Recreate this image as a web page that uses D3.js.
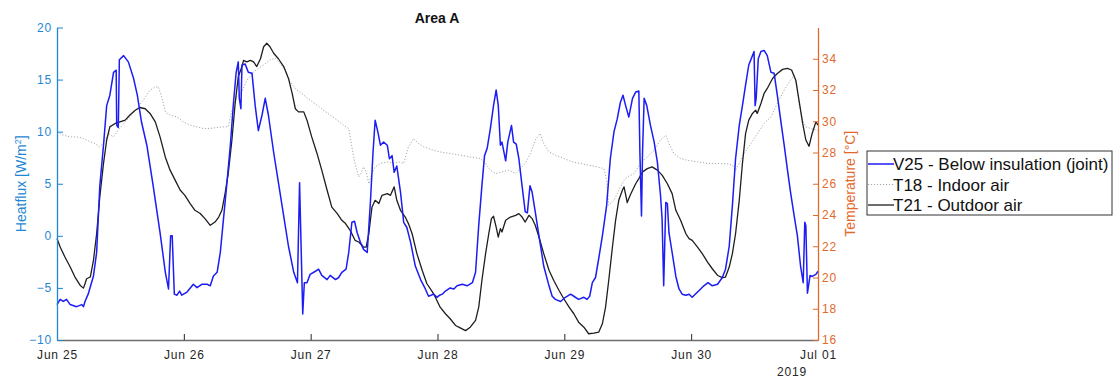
<!DOCTYPE html>
<html>
<head>
<meta charset="utf-8">
<script src="https://cdn.jsdelivr.net/npm/d3@7"></script>
<style>
  html, body { margin: 0; padding: 0; background: #fff; }
  svg { display: block; font-family: "Liberation Sans", Arial, Helvetica, sans-serif; }
</style>
</head>
<body>
<svg id="chart" width="1120" height="380"></svg>
<script>
// Area A, 25 June - 1 July 2019. Times are hours after 25 Jun 00:00.

// V25 - heat flux below insulation (joint), W/m2 (left axis)
const v25Hours = [0,0.6,1.2,1.8,2.5,3.7,4.7,5.0,5.3,5.9,6.9,7.5,8.1,8.8,9.4,10.0,10.7,11.2,11.3,11.6,11.8,12.6,13.5,14.5,15.2,16.0,17.0,18.2,19.5,20.5,21.1,21.5,21.8,22.2,22.7,23.2,23.6,24.6,25.8,26.5,27.4,28.4,29.0,29.6,30.3,30.9,31.5,32.1,32.8,33.4,33.9,34.3,34.5,34.8,35.0,35.6,35.9,36.2,36.9,37.5,38.1,38.8,39.4,40.0,41.0,41.9,42.9,43.8,44.8,45.5,45.9,46.5,46.8,47.3,47.9,48.9,49.5,50.1,51.1,51.7,52.7,53.3,53.9,54.7,55.2,55.8,56.3,56.8,57.4,58.0,58.7,59.3,59.8,60.2,60.7,61.2,61.8,62.5,62.9,63.4,63.8,64.3,65.0,65.6,66.2,66.9,67.8,68.8,69.7,70.3,71.3,71.9,72.4,72.9,73.5,74.4,75.1,75.7,76.7,77.6,78.6,79.2,79.8,80.4,80.9,81.4,82.0,82.6,83.1,83.5,83.9,84.2,84.9,85.3,86.0,86.4,86.9,87.4,88.0,88.6,89.0,89.5,89.9,90.5,91.2,92.1,93.1,93.7,94.3,95.3,96.2,97.2,97.8,98.7,99.7,100.3,100.8,101.3,101.9,102.5,103.2,104.0,104.7,105.4,106.0,106.6,107.1,107.6,108.2,108.9,109.5,110.1,110.3,110.6,110.8,111.1,111.6,112.3,113.0,113.6,114.2,114.5,114.8,115.2,115.5,115.8,116.4,117.1,117.7,118.3,119.0,119.6,120.2,121.2,121.8,122.4,123.2,124.0,125.0,125.9,126.5,127.2,127.8,128.4,129.1,129.7,130.3,130.9,131.6,131.9,132.1,132.3,132.7,133.2,133.8,134.4,135.1,135.7,136.3,137.0,137.6,138.2,138.8,139.5,140.1,140.7,141.2,141.5,141.7,142.0,142.5,142.9,143.6,144.0];
const v25Flux = [-6.6,-6.1,-6.3,-6.1,-6.6,-6.8,-6.6,-6.8,-6.3,-5.6,-3.85,-1.6,4.8,8.7,12.5,13.5,15.7,15.9,10.6,10.4,16.9,17.3,16.7,15.1,13.5,10.9,8.7,4.8,0.3,-3.5,-5.1,0,0,-5.6,-5.7,-5.3,-5.7,-5.4,-4.65,-4.97,-4.65,-4.65,-4.8,-3.85,-3.5,-1.6,1.6,4.8,8.7,12.8,15.7,16.7,13.2,12.2,16.4,16.5,16.1,15.7,15.6,12.5,10.1,11.6,13.2,11.6,8.0,5.1,1.9,-1.0,-3.5,-4.5,5.1,-7.5,-4.5,-4.5,-3.7,-3.4,-3.2,-3.8,-4.2,-3.8,-4.2,-4.0,-3.5,-3.2,-1.6,1.3,1.4,0.3,-0.6,-1.3,-1.6,3.2,8.0,11.1,10.0,8.7,9.0,8.7,7.4,7.7,6.1,6.7,4.2,1.3,0.8,-0.6,-2.9,-4.2,-5.1,-5.8,-5.6,-5.9,-5.7,-5.6,-5.3,-5.0,-5.1,-4.8,-4.65,-4.8,-4.5,-3.5,1.0,4.8,7.7,8.4,10.3,12.5,14.0,12.5,8.7,9.0,7.2,9.0,10.6,9.0,8.8,7.4,4.8,2.3,2.2,4.8,4.2,2.3,0,-2.9,-4.8,-5.8,-6.1,-6.3,-5.9,-5.6,-5.8,-6.1,-5.9,-6.1,-5.8,-4.5,-4.0,-2.2,0,2.9,7.4,10.0,11.2,12.8,13.5,12.5,11.4,13.2,13.8,13.9,8.0,1.9,8.0,13.2,12.5,10.6,9.0,7.1,3.9,1.6,-4.8,3.2,3.1,0.3,-1.6,-3.9,-5.1,-5.6,-5.7,-5.6,-5.9,-5.4,-5.1,-4.8,-4.5,-4.8,-4.65,-4.0,-3.2,-1.0,2.9,7.4,10.6,12.5,14.5,16.4,17.3,17.7,12.5,13.2,17.0,17.7,17.8,17.3,15.7,15.6,13.5,10.9,8.7,6.4,4.2,1.9,0,-2.9,-4.5,1.3,1.0,-5.5,-3.8,-3.9,-3.7,-3.4];

// T18 - indoor air temperature, degC (right axis)
const t18Hours = [0,1.2,2.5,3.7,5.0,6.3,7.2,8.0,8.8,9.7,10.7,11.6,12.6,13.8,15.1,16.3,17.6,18.6,19.2,19.8,20.5,21.4,22.7,23.9,25.2,26.5,27.7,29.0,30.3,31.5,32.4,33.1,34.0,35.0,35.9,37.2,38.1,39.1,40.3,41.3,42.2,43.2,44.1,45.4,46.7,47.9,49.2,50.4,51.7,53.0,54.2,55.2,55.8,56.4,57.1,57.5,58.0,58.5,59.0,59.6,60.2,61.2,62.5,63.7,64.6,65.6,66.5,67.5,68.4,69.4,70.7,72.4,74.4,76.3,78.2,80.1,81.1,82.0,83.0,84.2,85.5,86.8,87.7,88.6,89.6,90.5,91.4,92.1,93.1,94.3,95.9,97.5,99.1,100.6,102.2,103.5,104.0,104.4,105.4,106.3,107.3,107.9,109.2,110.4,111.7,113.0,114.2,115.2,115.8,116.7,118.0,119.3,121.2,123.1,125.0,126.9,127.8,128.4,129.1,130.0,131.3,132.6,133.8,135.1,136.3,137.6,138.8,139.5,140.0,140.4,141.1,141.7,144.0];
const t18Temp = [29.32,29.1,29.0,29.0,28.9,28.68,28.58,28.36,28.58,29.22,29.0,29.43,29.86,30.28,30.82,31.35,31.99,32.2,32.2,31.56,30.6,30.39,30.28,29.96,29.75,29.64,29.54,29.54,29.6,29.64,29.64,30.71,31.56,31.9,32.6,33.17,33.38,33.6,33.92,34.03,33.7,33.28,32.53,32.0,31.67,31.35,31.03,30.71,30.39,30.07,29.75,29.54,28.36,27.3,26.44,26.65,27.08,26.76,26.0,26.65,27.08,27.3,27.4,27.3,27.4,27.3,28.36,28.9,28.58,28.36,28.2,28.04,27.94,27.83,27.72,27.62,27.3,26.87,26.65,26.76,26.87,26.65,26.97,27.3,27.94,28.8,29.22,28.58,28.04,27.83,27.62,27.4,27.3,27.19,27.08,26.97,26.22,24.62,24.94,25.58,26.22,26.44,26.65,27.3,27.72,28.15,28.8,29.1,28.58,27.94,27.62,27.5,27.4,27.3,27.3,27.27,27.19,26.87,27.3,27.94,28.58,29.22,29.86,30.28,31.14,32.0,32.63,32.95,32.2,31.14,30.07,29.64,29.4];

// T21 - outdoor air temperature, degC (right axis)
const t21Hours = [0,0.6,1.5,2.5,3.4,4.4,5.0,5.3,5.6,6.3,6.9,7.5,8.1,8.8,9.4,10.0,11.0,11.9,12.9,13.8,14.8,15.7,16.7,17.6,18.6,19.5,20.5,21.4,22.4,23.3,24.2,25.2,26.1,27.1,28.0,29.0,29.9,30.6,31.2,31.8,32.4,33.1,33.7,34.3,35.0,35.3,35.9,36.6,37.2,37.8,38.5,39.1,39.7,40.3,41.0,41.9,42.9,43.8,44.5,45.1,45.7,46.7,47.3,48.2,49.2,50.1,51.1,52.0,53.0,53.9,54.6,55.5,56.4,57.1,58.0,58.5,59.0,59.6,60.2,60.9,61.5,62.5,63.1,63.8,64.3,65.0,65.9,66.5,67.2,68.1,69.1,70.0,71.0,71.6,72.5,73.5,74.4,75.4,76.3,77.3,78.2,79.2,79.8,80.4,81.1,81.7,82.2,82.6,83.1,83.5,83.9,84.2,84.9,85.8,86.8,87.4,88.0,88.6,89.3,89.9,90.5,91.2,92.1,93.1,94.0,95.0,95.9,96.9,97.8,98.7,99.7,100.6,101.6,102.5,103.2,103.8,104.4,105.1,105.7,106.3,107.0,107.3,107.9,108.5,109.5,110.1,110.8,111.7,112.6,113.6,114.5,115.5,116.4,117.1,118.0,119.0,119.6,120.2,121.2,122.1,123.1,124.0,125.0,125.9,126.5,127.2,127.8,128.4,129.1,129.7,130.3,130.9,131.6,132.2,132.5,133.2,133.8,134.4,135.4,136.3,137.3,138.2,139.0,139.8,140.4,141.1,141.7,142.3,142.9,143.6,144.0];
const t21Temp = [22.49,21.95,21.31,20.67,20.03,19.49,19.32,19.6,19.92,20.03,21.1,22.8,25.15,27.3,28.8,29.64,29.86,29.96,30.07,30.4,30.7,30.88,30.8,30.5,29.96,29.0,27.7,26.87,26.2,25.6,25.26,24.73,24.3,24.1,23.77,23.34,23.55,23.87,24.3,25.37,26.65,28.8,31.1,32.85,33.5,33.9,33.8,33.9,33.8,33.5,34.0,34.77,34.99,34.77,34.35,34.0,33.5,32.74,31.78,30.8,30.6,30.6,30.07,29.0,27.94,26.87,25.6,24.5,24.1,23.66,23.45,23.0,22.38,22.27,21.95,21.95,22.8,24.5,24.94,24.73,25.26,25.37,25.26,25.8,24.94,24.3,23.87,23.45,22.8,21.53,20.46,19.6,19.1,18.74,18.1,17.68,17.36,16.93,16.78,16.6,16.82,17.25,18.1,19.81,21.53,22.8,23.77,23.92,23.23,22.59,23.13,22.91,23.66,23.87,23.98,24.09,23.87,23.55,23.98,23.77,23.34,22.59,21.53,20.46,19.81,19.17,18.64,18.1,17.68,17.14,16.82,16.4,16.44,16.5,17.04,18.1,19.81,21.95,23.66,24.94,25.6,25.8,24.8,25.3,26.0,26.33,26.76,26.97,27.08,26.87,26.55,26.0,25.37,24.3,23.66,22.8,22.49,22.38,21.95,21.53,20.99,20.56,20.13,19.99,20.03,20.67,21.53,22.8,24.94,27.3,29.22,30.07,30.5,30.71,30.5,31.14,31.78,32.1,32.74,33.06,33.32,33.38,33.28,32.63,31.35,29.86,28.8,28.4,29.22,29.96,29.75];

// Axis ticks and labels
const fluxTicks = [-10, -5, 0, 5, 10, 15, 20];
const tempTicks = [16, 18, 20, 22, 24, 26, 28, 30, 32, 34];
const chartTitle = "Area A";
const yearLabel = "2019";
const seriesNames = ["V25 - Below insulation (joint)", "T18 - Indoor air", "T21 - Outdoor air"];

const start = new Date(2019, 5, 25);
const end = new Date(2019, 6, 1);
const toDate = h => new Date(start.getTime() + h * 3600e3);
const pairs = (hs, vs) => hs.map((h, i) => ({ t: toDate(h), v: vs[i] }));

const C = {
  flux: "#1f87d3",
  temp: "#e2692c",
  v25: "#1c1cf5",
  t18: "#a8a8a8",
  t21: "#1e1e1e",
  xaxis: "#6e6e6e",
  text: "#262626"
};

const m = { left: 57, right: 818, top: 27.5, bottom: 340 };
const svg = d3.select("#chart");

const x = d3.scaleTime().domain([start, end]).range([m.left, m.right]);
const yFlux = d3.scaleLinear().domain([-10, 20]).range([m.bottom, m.top]);
const yTemp = d3.scaleLinear().domain([16, 36]).range([m.bottom, m.top]);

// Lines
const lineFlux = d3.line().x(d => x(d.t)).y(d => yFlux(d.v));
const lineTemp = d3.line().x(d => x(d.t)).y(d => yTemp(d.v));

svg.append("path").datum(pairs(t18Hours, t18Temp))
  .attr("d", lineTemp).attr("fill", "none")
  .attr("stroke", C.t18).attr("stroke-width", 1).attr("stroke-dasharray", "1.2,1.8");

svg.append("path").datum(pairs(t21Hours, t21Temp))
  .attr("d", lineTemp).attr("fill", "none")
  .attr("stroke", C.t21).attr("stroke-width", 1.3).attr("stroke-linejoin", "round");

svg.append("path").datum(pairs(v25Hours, v25Flux))
  .attr("d", lineFlux).attr("fill", "none")
  .attr("stroke", C.v25).attr("stroke-width", 1.5).attr("stroke-linejoin", "round");

// Bottom axis
const gx = svg.append("g").attr("transform", `translate(0,${m.bottom})`)
  .call(d3.axisBottom(x)
    .tickValues(d3.timeDay.range(start, d3.timeDay.offset(end, 1)))
    .tickFormat(d3.timeFormat("%b %d"))
    .tickSizeInner(-6).tickSizeOuter(0).tickPadding(10));
gx.select(".domain").attr("stroke", C.xaxis).attr("stroke-width", 1.3);
gx.selectAll(".tick line").attr("stroke", C.text);
gx.selectAll(".tick text").attr("fill", C.text).attr("font-size", 12)
  .attr("letter-spacing", 0.8).attr("font-family", "Liberation Sans, Arial, sans-serif");

svg.append("text").attr("x", 807).attr("y", 376).attr("text-anchor", "end")
  .attr("fill", C.text).attr("font-size", 12).attr("letter-spacing", 0.8)
  .text(yearLabel);

// Left axis (heat flux)
const gl = svg.append("g").attr("transform", `translate(${m.left},0)`)
  .call(d3.axisLeft(yFlux).tickValues(fluxTicks)
    .tickSizeInner(-6).tickSizeOuter(0).tickPadding(5));
gl.select(".domain").attr("stroke", C.flux).attr("stroke-width", 1.3);
gl.selectAll(".tick line").attr("stroke", C.flux);
gl.selectAll(".tick text").attr("fill", C.flux).attr("font-size", 12)
  .attr("letter-spacing", 0.8).attr("font-family", "Liberation Sans, Arial, sans-serif");

// Right axis (temperature)
const gr = svg.append("g").attr("transform", `translate(${m.right},0)`)
  .call(d3.axisRight(yTemp).tickValues(tempTicks)
    .tickSizeInner(-5).tickSizeOuter(0).tickPadding(4));
gr.select(".domain").attr("stroke", C.temp).attr("stroke-width", 1.3);
gr.selectAll(".tick line").attr("stroke", C.temp);
gr.selectAll(".tick text").attr("fill", C.temp).attr("font-size", 12)
  .attr("letter-spacing", 0.8).attr("font-family", "Liberation Sans, Arial, sans-serif");

// Axis titles
const yl = svg.append("text")
  .attr("transform", `translate(26,${(m.top + m.bottom) / 2}) rotate(-90)`)
  .attr("text-anchor", "middle").attr("fill", C.flux).attr("font-size", 14);
yl.append("tspan").text("Heatflux [W/m");
yl.append("tspan").attr("dy", -5).attr("font-size", 9).text("2");
yl.append("tspan").attr("dy", 5).text("]");

svg.append("text")
  .attr("transform", `translate(855,${(m.top + m.bottom) / 2}) rotate(-90)`)
  .attr("text-anchor", "middle").attr("fill", C.temp).attr("font-size", 14)
  .text("Temperature [°C]");

// Title
svg.append("text").attr("x", 437).attr("y", 23).attr("text-anchor", "middle")
  .attr("font-weight", "bold").attr("font-size", 14).attr("fill", "#111")
  .text(chartTitle);

// Legend
const legend = svg.append("g").attr("transform", "translate(867,151)");
legend.append("rect").attr("width", 245).attr("height", 64)
  .attr("fill", "#fff").attr("stroke", "#333").attr("stroke-width", 1);
const legendStyles = [
  { color: C.v25, width: 1.5, dash: null },
  { color: C.t18, width: 1, dash: "1.2,1.8" },
  { color: C.t21, width: 1.3, dash: null }
];
seriesNames.forEach((name, i) => {
  const cy = 13 + i * 20.5;
  legend.append("line").attr("x1", 1).attr("x2", 27).attr("y1", cy).attr("y2", cy)
    .attr("stroke", legendStyles[i].color).attr("stroke-width", legendStyles[i].width)
    .attr("stroke-dasharray", legendStyles[i].dash);
  legend.append("text").attr("x", 26).attr("y", cy).attr("dy", "0.36em")
    .attr("font-size", 17).attr("fill", "#111").text(name);
});
</script>
</body>
</html>
